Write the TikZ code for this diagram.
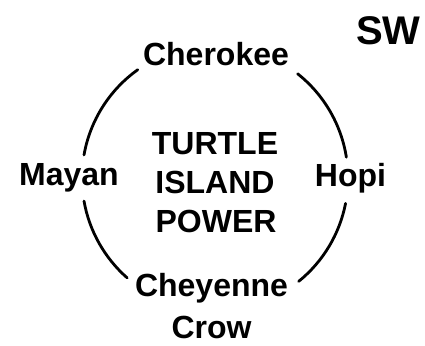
\documentclass[tikz,border=0pt]{standalone}
\usepackage{fontspec}
\setmainfont{Liberation Sans}
\newfontfamily\lbl{Liberation Sans Bold}
\begin{document}
\begin{tikzpicture}[x=1pt,y=1pt,
  lab/.style={anchor=base, inner sep=0pt, font=\lbl\fontsize{32}{38}\selectfont},
  ring/.style={line width=2.8pt, line cap=round}]
\useasboundingbox (0,0) rectangle (425,345);
\coordinate (c) at (215,167);
\node[lab] (cherokee) at (216,279.3) {Cherokee};
\node[lab] (mayan) at (69,159.5) {Mayan};
\node[lab] (hopi) at (350.5,158.5) {Hopi};
\node[lab] (turtle) at (215,190) {TURTLE};
\node[lab] (island) at (215,151) {ISLAND};
\node[lab] (power) at (216,112) {POWER};
\node[lab] (cheyenne) at (211.5,48.3) {Cheyenne};
\node[lab] (crow) at (211.5,6.5) {Crow};
\node[anchor=base, inner sep=0pt, font=\lbl\fontsize{40}{46}\selectfont] (swlab) at (388.5,300) {SW};
\draw[ring] ([shift={(125.5:133)}]c) arc[start angle=125.5, end angle=170, radius=133];
\draw[ring] ([shift={(190:133)}]c) arc[start angle=190, end angle=228.7, radius=133];
\draw[ring] ([shift={(309:133)}]c) arc[start angle=309, end angle=349, radius=133];
\draw[ring] ([shift={(9:133)}]c) arc[start angle=9, end angle=51.6, radius=133];
\end{tikzpicture}
\end{document}
